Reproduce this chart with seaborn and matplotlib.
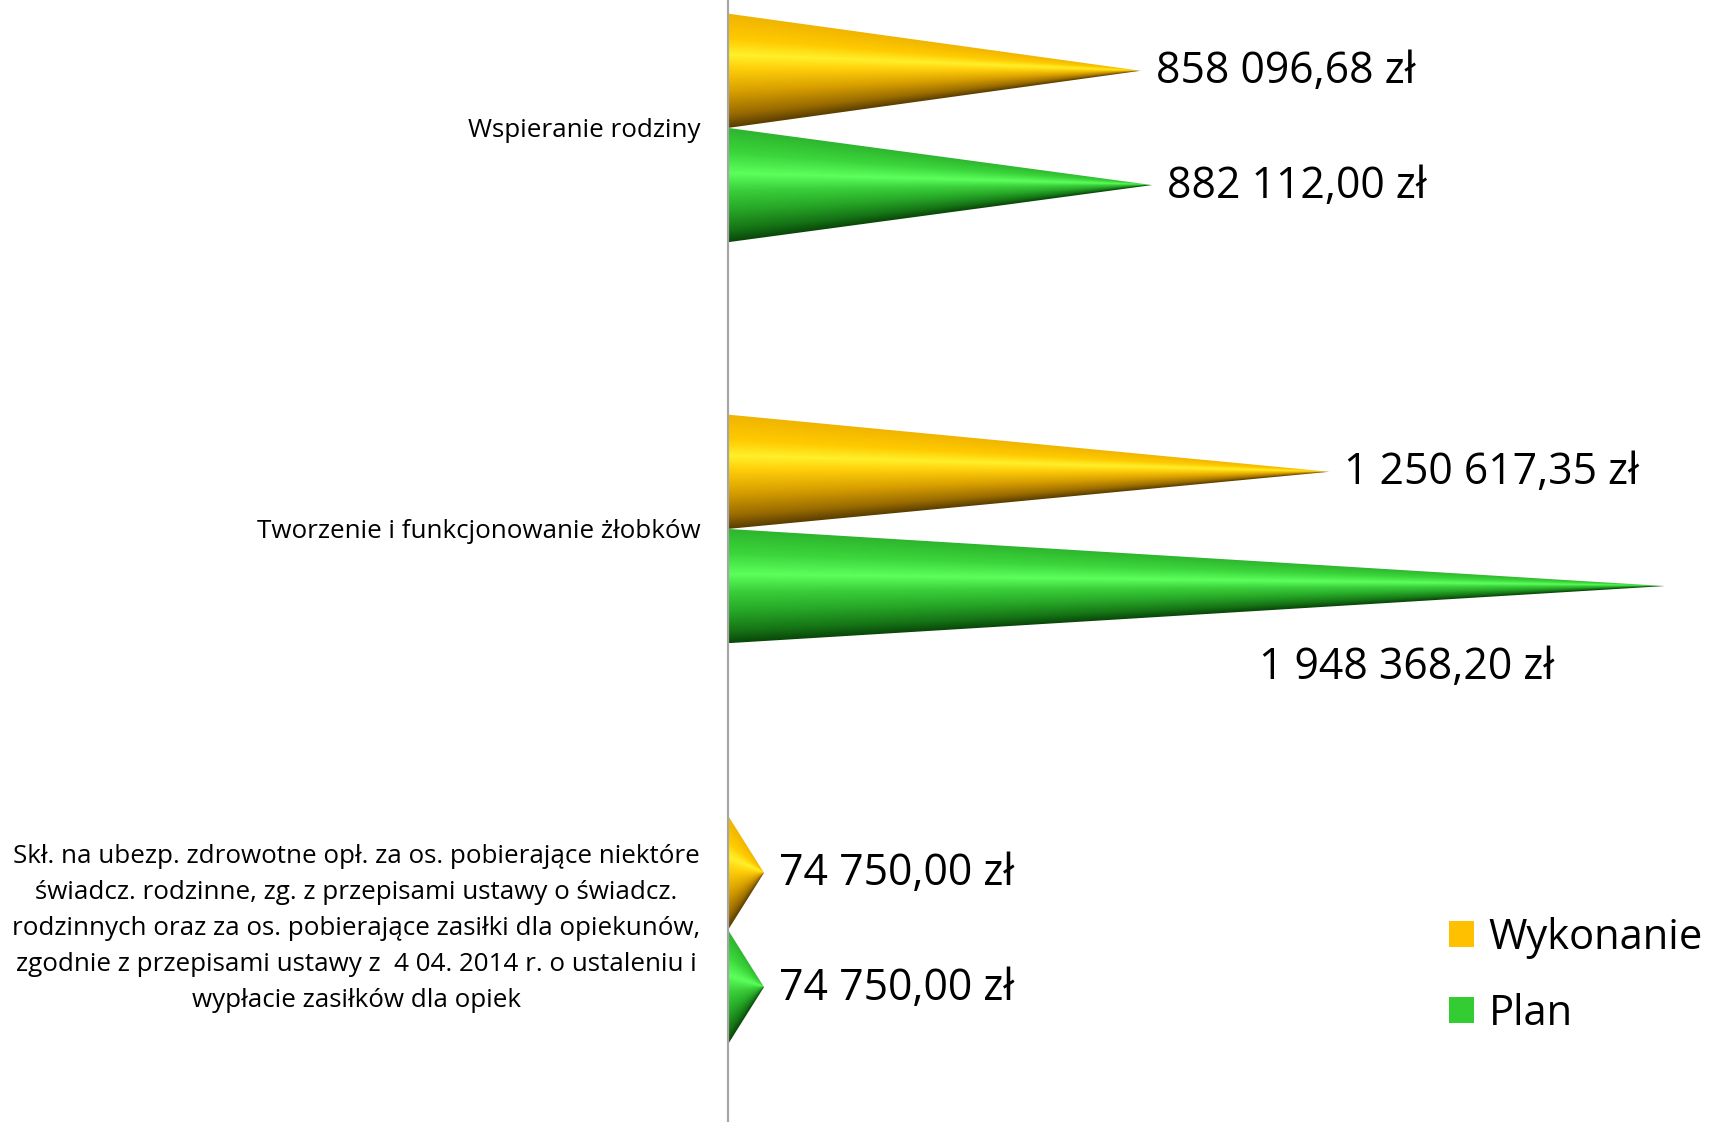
import numpy as np
import pandas as pd
import matplotlib
matplotlib.use("Agg")
import matplotlib.pyplot as plt
import matplotlib.transforms as mtransforms
import seaborn as sns
from matplotlib.patches import Polygon, Patch
from matplotlib.colors import LinearSegmentedColormap

# ---------------- data ----------------
categories = [
    "Wspieranie rodziny",
    "Tworzenie i funkcjonowanie żłobków",
    "Skł. na ubezp. zdrowotne opł. za os. pobierające niektóre\n"
    "świadcz. rodzinne, zg. z przepisami ustawy o świadcz.\n"
    "rodzinnych oraz za os. pobierające zasiłki dla opiekunów,\n"
    "zgodnie z przepisami ustawy z  4 04. 2014 r. o ustaleniu i\n"
    "wypłacie zasiłków dla opiek",
]
series = ["Wykonanie", "Plan"]
wykonanie = [858096.68, 1250617.35, 74750.00]
plan = [882112.00, 1948368.20, 74750.00]
series_colors = ["#FFC000", "#33CC33"]

df = pd.DataFrame({
    "kategoria": categories * 2,
    "seria": [series[0]] * 3 + [series[1]] * 3,
    "wartosc": wykonanie + plan,
})

# ---------------- style ----------------
sns.set_theme(style="white")
plt.rcParams["font.family"] = ["Open Sans", "DejaVu Sans"]
plt.rcParams["text.color"] = "black"

fig = plt.figure(figsize=(17.11, 11.22), dpi=100)
ax = fig.add_axes([0.4255, 0.0, 0.5745, 1.0])

sns.barplot(data=df, y="kategoria", x="wartosc", hue="seria",
            hue_order=series, palette=series_colors, order=categories,
            orient="h", width=0.57, dodge=True, legend=False, ax=ax,
            errorbar=None)

# cone shading stops (0 = top edge, 1 = bottom edge)
stops = {
    "#FFC000": [(0.0, "#F0B400"), (0.22, "#FFCA00"), (0.36, "#FFF02A"),
                (0.48, "#FFCF0A"), (0.68, "#D9A000"), (0.88, "#9A6C00"),
                (1.0, "#5A3E00")],
    "#33CC33": [(0.0, "#2DB42D"), (0.22, "#3CD63C"), (0.40, "#5CFF5C"),
                (0.55, "#3ACF3A"), (0.72, "#27A827"), (0.9, "#157315"),
                (1.0, "#0A480A")],
}
cmaps = {k: LinearSegmentedColormap.from_list(k, v) for k, v in stops.items()}

XMAX = 2045000
ax.set_xlim(0, XMAX)
ax.set_ylim(2.479, -0.319)

def fmt(v):
    s = f"{v:,.2f}".replace(",", " ").replace(".", ",")
    return s + " zł"

for ci, cont in enumerate(ax.containers):
    cm = cmaps[series_colors[ci]]
    for bi, bar in enumerate(cont):
        x0 = bar.get_x()
        w = bar.get_width()
        y = bar.get_y()
        h = bar.get_height()
        bar.set_visible(False)
        yc = y + h / 2
        tri = Polygon([(x0, y), (x0 + w, yc), (x0, y + h)], closed=True,
                      transform=ax.transData, facecolor="none",
                      edgecolor="none")
        ax.add_patch(tri)
        nx, ny = 600, 300
        xs = np.linspace(x0, x0 + w, nx)
        ys = np.linspace(y, y + h, ny)
        XX, YY = np.meshgrid(xs, ys)
        half = (h / 2) * np.clip(1 - (XX - x0) / w, 1e-3, None)
        t = np.clip((YY - yc) / half, -1, 1)
        rgba = cm((t + 1) / 2)
        im = ax.imshow(rgba, extent=(x0, x0 + w, y + h, y), origin="upper",
                       aspect="auto", interpolation="bilinear", zorder=2)
        im.set_clip_path(tri)

        val = bar.get_width()
        if ci == 1 and bi == 1:
            ax.annotate(fmt(val), xy=(x0 + w, yc), xytext=(-186, -59),
                        textcoords="offset points", ha="center", va="center",
                        fontsize=30.8, color="black")
        else:
            ax.annotate(fmt(val), xy=(x0 + w, yc), xytext=(11, -1),
                        textcoords="offset points", ha="left", va="center",
                        fontsize=30.8, color="black")

ax.set_xlim(0, XMAX)
ax.set_ylim(2.479, -0.319)

ax.set_xlabel("")
ax.set_ylabel("")
ax.set_xticks([])
ax.set_yticks(range(len(categories)))
ax.set_yticklabels(categories, fontsize=18.7, color="black",
                   multialignment="center", linespacing=1.58)
ax.tick_params(axis="y", length=0, pad=20)
# the long multi-line label sits slightly above its tick in the original
lbl = ax.get_yticklabels()[2]
lbl.set_transform(lbl.get_transform() +
                  mtransforms.ScaledTranslation(0, 7 / 72, fig.dpi_scale_trans))
for s in ["top", "right", "bottom"]:
    ax.spines[s].set_visible(False)
ax.spines["left"].set_color("#A6A6A6")
ax.spines["left"].set_linewidth(1.6)

handles = [Patch(facecolor=c, edgecolor="none") for c in series_colors]
leg = ax.legend(handles, series, loc="upper left",
                bbox_to_anchor=(0.847, 0.183), bbox_transform=fig.transFigure,
                frameon=False, fontsize=30, handlelength=0.6, handleheight=0.6,
                handletextpad=0.35, labelspacing=0.82, borderpad=0,
                borderaxespad=0)
for txt in leg.get_texts():
    txt.set_color("black")

fig.savefig("out.png", dpi=100, facecolor="white")
